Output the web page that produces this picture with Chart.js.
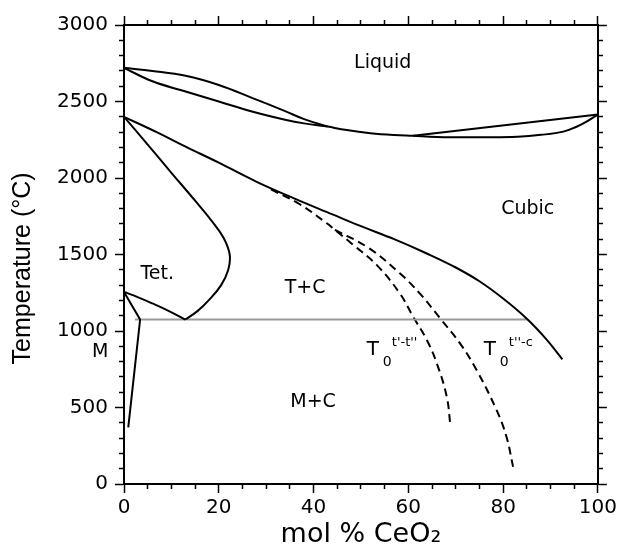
<!DOCTYPE html>
<html>
<head>
<meta charset="utf-8">
<title>ZrO2-CeO2 phase diagram</title>
<script src="https://cdn.jsdelivr.net/npm/chart.js@4"></script>
<style>
  html, body { margin: 0; padding: 0; background: #fff; }
  #wrap { width: 620px; height: 554px; }
</style>
</head>
<body>
<div id="wrap"><canvas id="phaseChart"></canvas></div>
<script>
// liquidus and solidus, ZrO2 side (they meet near 43 mol%)
const liquidusX = [0, 6, 13, 20, 27, 34, 38, 43];
const liquidusT = [2720, 2700, 2668, 2608, 2524, 2437, 2385, 2336];
const solidusX = [0, 6, 13, 20, 27, 34, 38, 43];
const solidusT = [2720, 2632, 2565, 2500, 2435, 2381, 2357, 2336];
// single melting curve down to the minimum
const meltMinX = [43, 47, 52, 57, 61];
const meltMinT = [2336, 2313, 2293, 2281, 2276];
// CeO2 side of the melting lens
const liquidusCeX = [61, 100];
const liquidusCeT = [2276, 2415];
const solidusCeX = [61, 66, 70, 76, 83, 88, 92.7, 95.5, 97.6, 100];
const solidusCeT = [2276, 2268, 2266, 2266, 2270, 2282, 2303, 2335, 2368, 2415];
// cubic / (T+C) boundary
const cubicX = [0, 7, 13, 20, 28, 36, 44, 50, 57, 64, 70, 75, 80, 85, 89, 92.5];
const cubicT = [2400, 2298, 2205, 2100, 1975, 1865, 1762, 1685, 1600, 1505, 1415, 1325, 1212, 1080, 950, 815];
// tetragonal / (T+C) boundary
const tetX = [0, 5, 10, 15, 18.5, 21, 22.3, 22, 20.5, 18, 15.5, 12.9];
const tetT = [2400, 2218, 2034, 1852, 1720, 1610, 1500, 1400, 1300, 1205, 1130, 1075];
// lower edge of Tet. field
const tetLowX = [0, 3, 6, 9.5, 12.9];
const tetLowT = [1255, 1220, 1180, 1130, 1075];
// monoclinic boundary
const monoX = [0, 3.4, 0.9];
const monoT = [1255, 1075, 370];
// eutectoid line
const eutectoidX = [2.3, 85];
const eutectoidT = [1075, 1075];
// T0 curves
const t0aX = [31, 37, 42.8, 44.5, 48.4, 53.3, 58.2, 61, 63.9, 66, 68.1, 68.9];
const t0aT = [1925, 1830, 1704, 1661, 1562, 1432, 1246, 1094, 941, 789, 571, 375];
const t0bX = [44.5, 51.5, 58.2, 62.4, 66.7, 70.9, 74.4, 78.6, 80.7, 82.1];
const t0bT = [1661, 1545, 1377, 1246, 1083, 919, 745, 484, 309, 113];

// field labels
const fieldNames = ['Liquid', 'Cubic', 'Tet.', 'T+C', 'M+C', 'M'];
const fieldX = [54.6, 85.2, 7.0, 38.2, 39.9, -5.0];
const fieldT = [2752, 1797, 1373, 1281, 536, 863];
const t0LabelX = [52.5, 77.2];
const t0LabelT = [876, 876];
const t0Sup = ["t'-t''", "t''-c"];

// axis ticks
const xTicks = [0, 5, 10, 15, 20, 25, 30, 35, 40, 45, 50, 55, 60, 65, 70, 75, 80, 85, 90, 95, 100];
const yTicks = [0, 100, 200, 300, 400, 500, 600, 700, 800, 900, 1000, 1100, 1200, 1300, 1400, 1500,
  1600, 1700, 1800, 1900, 2000, 2100, 2200, 2300, 2400, 2500, 2600, 2700, 2800, 2900, 3000];

const FONT = 'DejaVu Sans';

function pts(xs, ts) {
  return xs.map((v, i) => ({ x: v, y: ts[i] }));
}

function curve(xs, ts, extra) {
  return Object.assign({
    data: pts(xs, ts),
    showLine: true,
    borderColor: '#000',
    borderWidth: 2,
    pointRadius: 0,
    tension: 0.4,
    fill: false
  }, extra || {});
}

function axis(pos, tickValues, majorStep, showLabels, size) {
  const outerFirst = pos === 'top' || pos === 'left';
  const isMajor = c => c.tick && c.tick.value % majorStep === 0;
  const horizontal = pos === 'top' || pos === 'bottom';
  return {
    type: 'linear',
    position: pos,
    min: 0,
    max: horizontal ? 100 : 3000,
    afterBuildTicks: s => { s.ticks = tickValues.map(v => ({ value: v })); },
    afterFit: s => { if (horizontal) s.height = size; else s.width = size; },
    border: { display: true, color: '#000', width: 2 },
    grid: {
      drawOnChartArea: false,
      drawTicks: true,
      tickLength: 9,
      tickColor: '#000',
      tickWidth: 1.5,
      tickBorderDash: c => isMajor(c) ? [] : [4, 20],
      tickBorderDashOffset: c => (isMajor(c) || !outerFirst) ? 0 : -4
    },
    ticks: {
      display: showLabels,
      autoSkip: false,
      maxRotation: 0,
      padding: horizontal ? 3 : 7,
      color: '#000',
      font: { family: FONT, size: 20 },
      callback: v => (v % majorStep === 0 ? String(v) : '')
    }
  };
}

const labelPlugin = {
  id: 'fieldLabels',
  afterDatasetsDraw(chart) {
    const { ctx, scales } = chart;
    const sx = scales.x, sy = scales.y;
    ctx.save();
    ctx.fillStyle = '#000';
    ctx.textBaseline = 'middle';
    ctx.textAlign = 'center';
    ctx.font = '19px "' + FONT + '"';
    fieldNames.forEach((name, i) => {
      ctx.fillText(name, sx.getPixelForValue(fieldX[i]), sy.getPixelForValue(fieldT[i]));
    });
    t0LabelX.forEach((v, i) => {
      const px = sx.getPixelForValue(v);
      const py = sy.getPixelForValue(t0LabelT[i]);
      ctx.textAlign = 'center';
      ctx.font = '20px "' + FONT + '"';
      ctx.fillText('T', px, py);
      ctx.textAlign = 'left';
      ctx.font = '14px "' + FONT + '"';
      ctx.fillText('0', px + 10, py + 12);
      ctx.font = '13px "' + FONT + '"';
      ctx.fillText(t0Sup[i], px + 19, py - 7);
    });
    ctx.restore();
  }
};

const xAxis = axis('bottom', xTicks, 20, true, 70);
xAxis.title = {
  display: true,
  text: 'mol % CeO\u2082',
  color: '#000',
  font: { family: FONT, size: 27 },
  padding: { top: 0, bottom: 3 }
};
const yAxis = axis('left', yTicks, 500, true, 124);
yAxis.title = {
  display: true,
  // trailing spaces move the centred title a little down, as in the original
  text: 'Temperature (\u00B0C)    ',
  color: '#000',
  font: { family: 'Liberation Sans', size: 25 },
  padding: { top: 8, bottom: 0 }
};

new Chart(document.getElementById('phaseChart'), {
  type: 'scatter',
  data: {
    datasets: [
      curve(liquidusX, liquidusT),
      curve(solidusX, solidusT),
      curve(meltMinX, meltMinT),
      curve(liquidusCeX, liquidusCeT, { tension: 0 }),
      curve(solidusCeX, solidusCeT),
      curve(cubicX, cubicT),
      curve(tetX, tetT),
      curve(tetLowX, tetLowT),
      curve(monoX, monoT, { tension: 0 }),
      curve(eutectoidX, eutectoidT, { tension: 0, borderColor: '#999' }),
      curve(t0aX, t0aT, { borderDash: [8, 5] }),
      curve(t0bX, t0bT, { borderDash: [8, 5] })
    ]
  },
  options: {
    responsive: true,
    maintainAspectRatio: false,
    animation: false,
    layout: { padding: 0 },
    plugins: {
      legend: { display: false },
      tooltip: { enabled: false }
    },
    scales: {
      x: xAxis,
      y: yAxis,
      x2: axis('top', xTicks, 20, false, 25),
      y2: axis('right', yTicks, 500, false, 22)
    }
  },
  plugins: [labelPlugin]
});
</script>
</body>
</html>
